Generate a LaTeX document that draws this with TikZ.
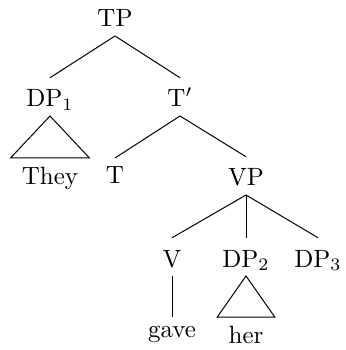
\documentclass[tikz,border=0pt]{standalone}
\usepackage{tikz}
\usepackage{amsmath}

\begin{document}
\begin{tikzpicture}[
  x=0.4pt, y=-0.4pt,
  every node/.style={font=\normalsize},
  phrase/.style={anchor=base, text height=9.5pt, text depth=1.4pt, inner sep=2pt},
  word/.style={anchor=north},
  branch/.style={line width=0.4pt},
  roof/.style={line width=0.4pt, line join=miter}
]
\useasboundingbox (0,0) rectangle (345,350);

% phrases
\node[phrase] (tp)  at (115,27)  {TP};
\node[phrase] (dp1) at (50,107)  {DP$_1$};
\node[phrase] (tbar) at (180,107) {T$'$};
\node[phrase] (vp)  at (246,186) {VP};
\node[phrase] (v)   at (172,267) {V};
\node[phrase] (dp2) at (246,267) {DP$_2$};
\node[phrase] (dp3) at (318,267) {DP$_3$};

% words
\node[word] (they) at (50,158)  {They};
\node[word] (t)    at (115,158) {T};
\node[word] (gave) at (172,317) {gave};
\node[word] (her)  at (246,317) {her};

% branches
\draw[branch] (tp.south) -- (dp1.north);
\draw[branch] (tp.south) -- (tbar.north);
\draw[branch] (tbar.south) -- (t.north);
\draw[branch] (tbar.south) -- (vp.north);
\draw[branch] (vp.south) -- (v.north);
\draw[branch] (vp.south) -- (dp2.north);
\draw[branch] (vp.south) -- (dp3.north);
\draw[branch] (v.south) -- (gave.north);

% roofs
\draw[roof] (dp1.south) -- ([xshift=-1pt]they.north west) -- ([xshift=1pt]they.north east) -- cycle;
\draw[roof] (dp2.south) -- ([xshift=-1pt]her.north west) -- ([xshift=1pt]her.north east) -- cycle;
\end{tikzpicture}
\end{document}
